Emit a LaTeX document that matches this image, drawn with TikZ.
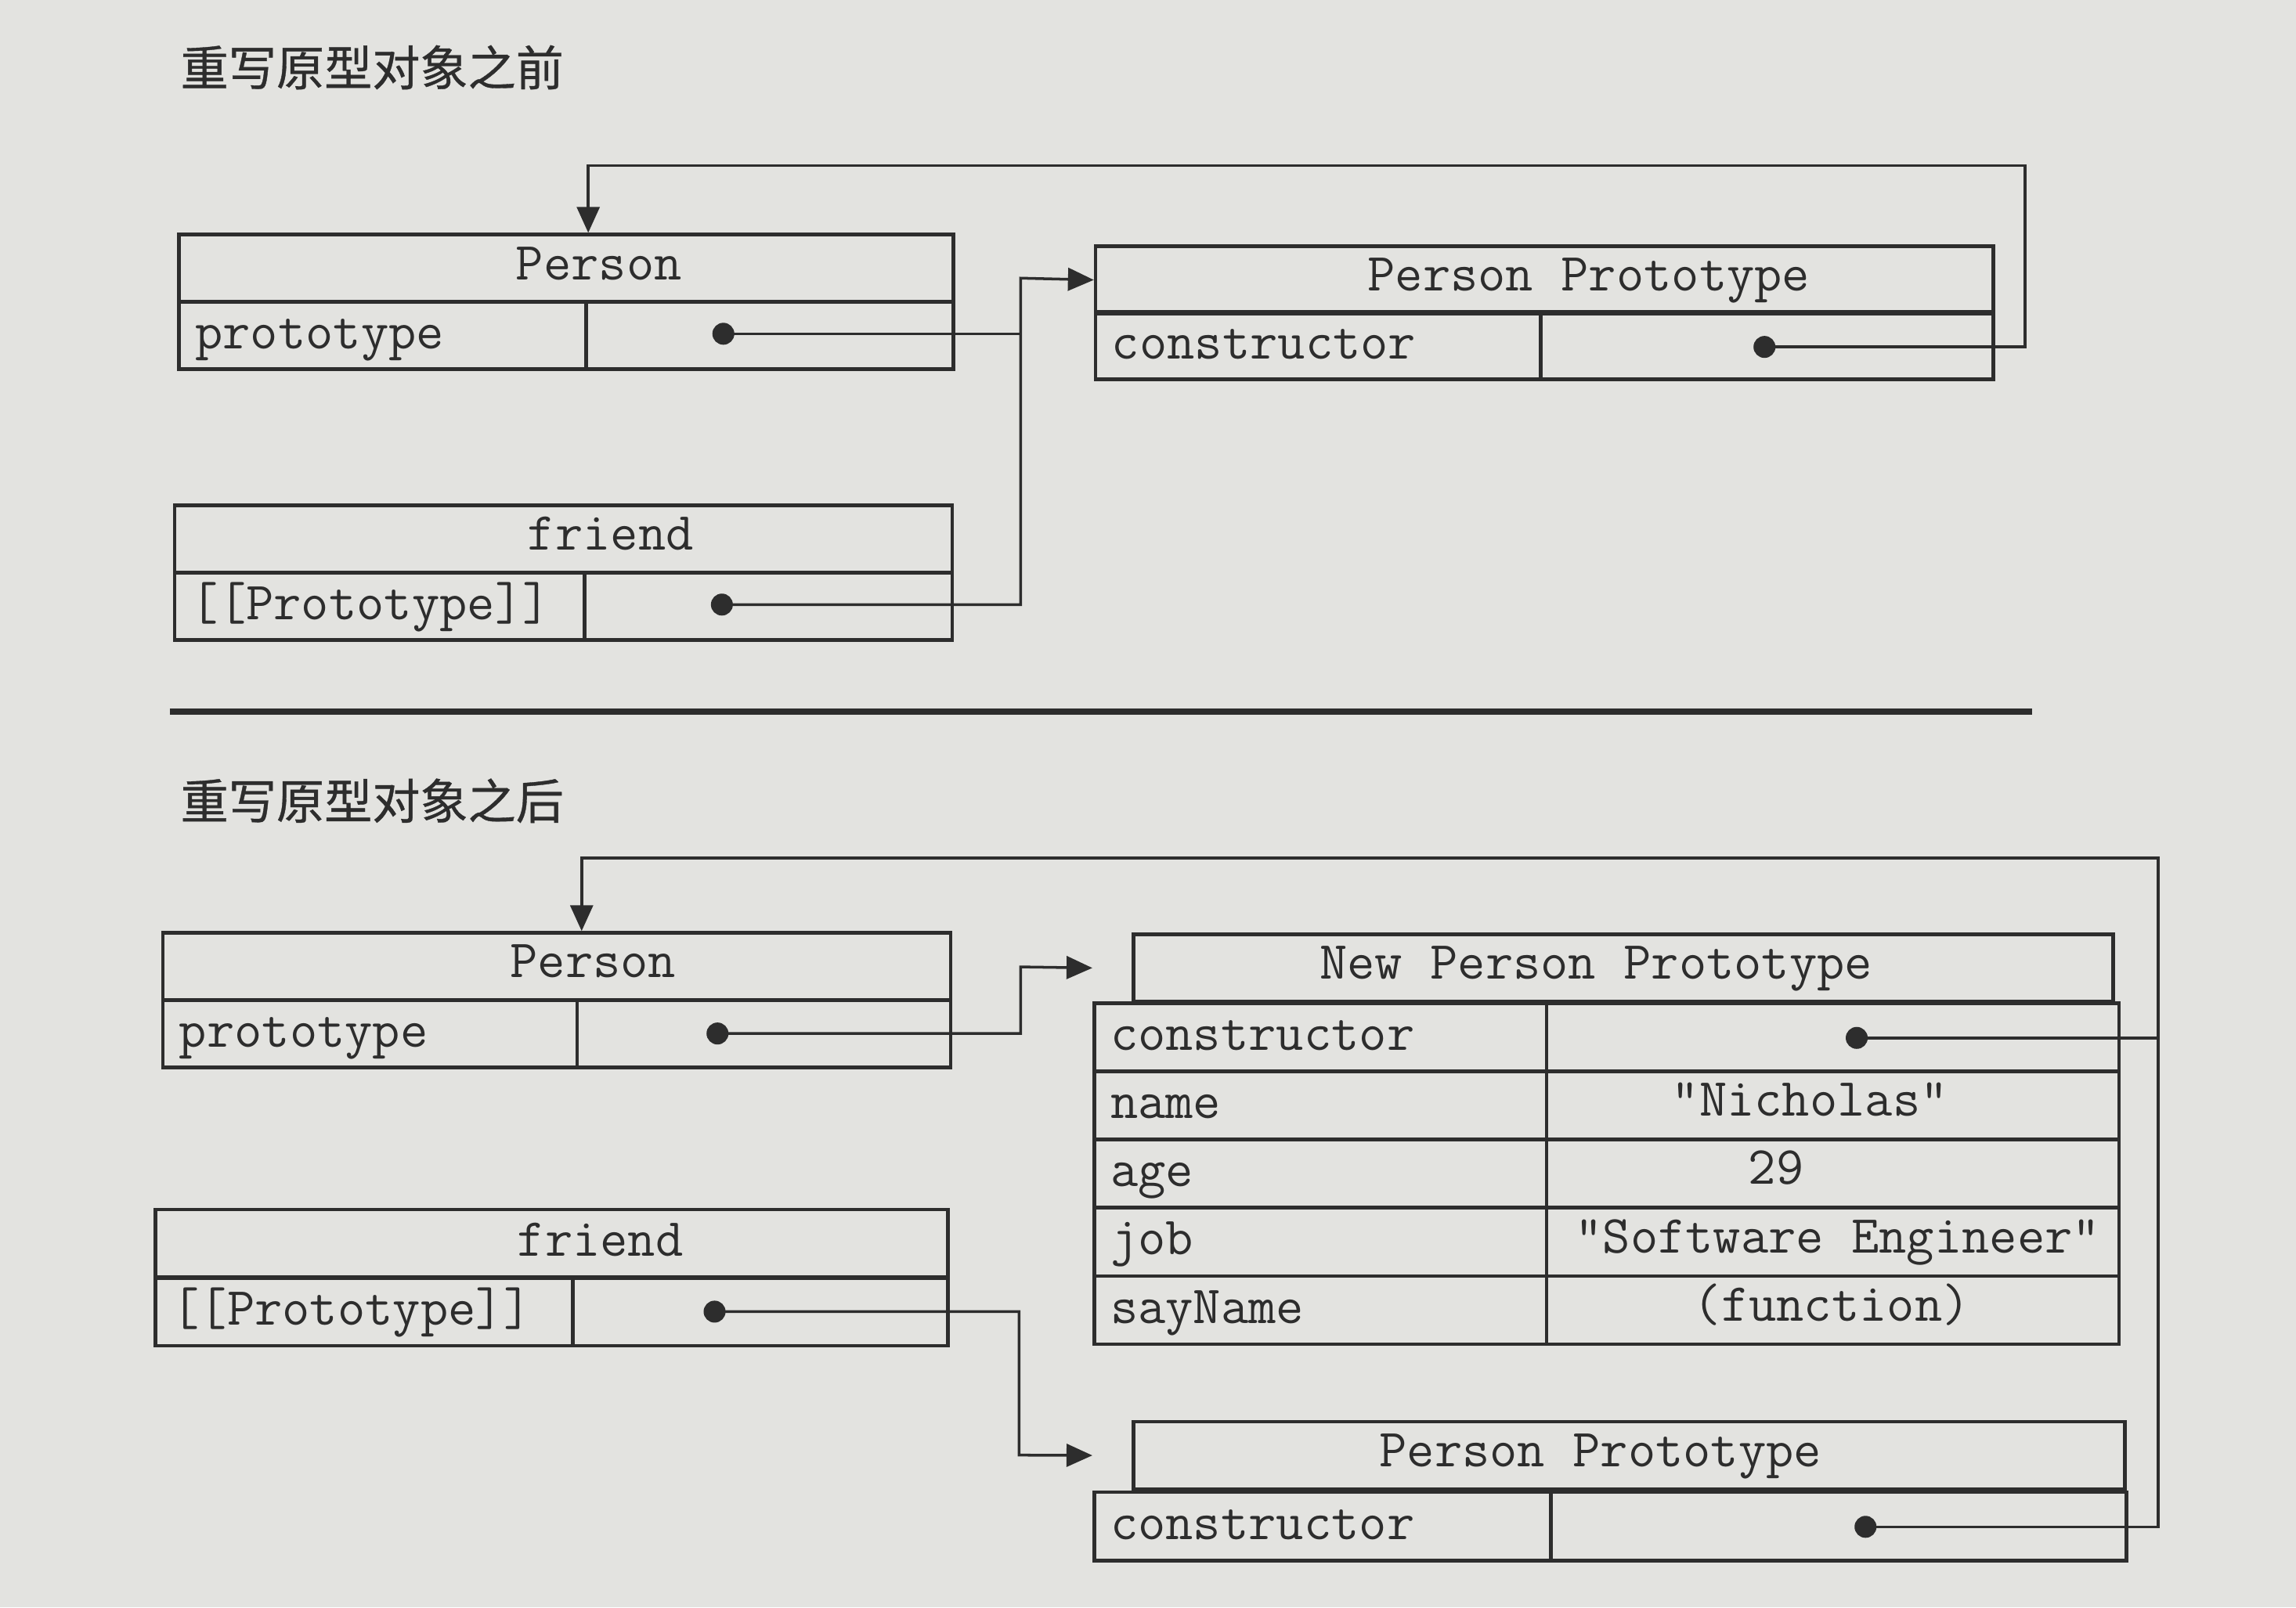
\documentclass[tikz,border=0pt]{standalone}
\usepackage{fontspec}
\newfontfamily\cjkfont[FakeBold=0.6]{Noto Sans CJK SC}
\usepackage{tikz}
\usetikzlibrary{arrows.meta,positioning}
\definecolor{paper}{RGB}{227,227,224}
\definecolor{ink}{RGB}{45,45,45}
\newlength\unitpx
\setlength\unitpx{0.187mm}

\tikzset{
  cell/.style={draw=ink, line width=1.3pt, inner sep=0pt, anchor=north west, minimum height=46\unitpx},
  txt/.style={font=\ttfamily\fontsize{19.5}{22}\selectfont, text=ink, inner sep=0pt, text height=11.9pt, text depth=2.4pt},
  dot/.style={circle, fill=ink, inner sep=0pt, minimum size=15\unitpx},
  link/.style={draw=ink, line width=1pt},
  arr/.style={link, -{Triangle[length=3.3mm, width=2.9mm]}},
  title/.style={font=\cjkfont\fontsize{17.4}{20}\selectfont, text=ink, anchor=west, inner sep=0pt}
}

\begin{document}
\begin{tikzpicture}[x=0.187mm, y=-0.187mm]
    \fill[paper] (0,0) rectangle (1568,1098);

    % before
    \node[title] (t1) at (123,46) {重写原型对象之前};

    \node[cell, minimum width=529\unitpx] (pa) at (121,159) {};
    \node[cell, minimum width=278\unitpx] (pa-k) at (121,205) {};
    \node[cell, minimum width=251\unitpx] (pa-v) at (399,205) {};
    \node[txt] (pa-t) at (409,182) {Person};
    \node[txt, right=12\unitpx of pa-k.west] (pa-kt) {prototype};
    \node[dot] (pa-d) at (494,228) {};

    \node[cell, minimum width=613\unitpx] (pp) at (747,167) {};
    \node[cell, minimum width=304\unitpx] (pp-k) at (747,212) {};
    \node[cell, minimum width=309\unitpx] (pp-v) at (1051,212) {};
    \node[txt] (pp-t) at (1085,190) {Person Prototype};
    \node[txt, right=12\unitpx of pp-k.west] (pp-kt) {constructor};
    \node[dot] (pp-d) at (1205,237) {};

    \node[cell, minimum width=531\unitpx] (fa) at (118,344) {};
    \node[cell, minimum width=280\unitpx] (fa-k) at (118,390) {};
    \node[cell, minimum width=251\unitpx] (fa-v) at (398,390) {};
    \node[txt] (fa-t) at (417,367) {friend};
    \node[txt, right=12\unitpx of fa-k.west] (fa-kt) {[[Prototype]]};
    \node[dot] (fa-d) at (493,413) {};

    \coordinate (ja) at (697,190);
    \coordinate (la) at (1383,113);
    \draw[arr] (fa-d.center) -| (ja) -- (pp.west);
    \draw[link] (pa-d.center) -- (pa-d.center -| ja);
    \draw[arr] (pp-d.center) -| (la) -| ([xshift=15\unitpx]pa.north);

    \draw[ink, line width=2.2pt] (116,486) -- (1388,486);

    % after
    \node[title] (t2) at (123,547) {重写原型对象之后};

    \node[cell, minimum width=538\unitpx] (pb) at (110,636) {};
    \node[cell, minimum width=283\unitpx] (pb-k) at (110,682) {};
    \node[cell, minimum width=255\unitpx] (pb-v) at (393,682) {};
    \node[txt] (pb-t) at (405,659) {Person};
    \node[txt, right=12\unitpx of pb-k.west] (pb-kt) {prototype};
    \node[dot] (pb-d) at (490,706) {};

    \node[cell, minimum width=541\unitpx] (fb) at (105,825) {};
    \node[cell, minimum width=285\unitpx] (fb-k) at (105,872) {};
    \node[cell, minimum width=256\unitpx] (fb-v) at (390,872) {};
    \node[txt] (fb-t) at (410,849) {friend};
    \node[txt, right=12\unitpx of fb-k.west] (fb-kt) {[[Prototype]]};
    \node[dot] (fb-d) at (488,896) {};

    \node[cell, minimum width=669\unitpx] (npp) at (773,637) {};
    \node[txt] (npp-t) at (1090,660) {New Person Prototype};
    \node[cell, minimum width=309\unitpx, minimum height=46.6\unitpx] (npp-k0) at (746,684) {};
    \node[cell, minimum width=391\unitpx, minimum height=46.6\unitpx] (npp-v0) at (1055,684) {};
    \node[txt, right=12\unitpx of npp-k0.west] (npp-kt0) {constructor};
    \node[dot] (npp-d) at (1268,709) {};
    \foreach \k/\v/\vx [count=\i] in {name/"Nicholas"/1236, age/29/1213,
        job/"Software Engineer"/1255, sayName/(function)/1251} {
      \node[cell, minimum width=309\unitpx, minimum height=46.6\unitpx] (npp-k\i) at (746,{684+46.6*\i}) {};
      \node[cell, minimum width=391\unitpx, minimum height=46.6\unitpx] (npp-v\i) at (1055,{684+46.6*\i}) {};
      \node[txt, right=12\unitpx of npp-k\i.west] (npp-kt\i) {\k};
      \node[txt] (npp-vt\i) at (\vx,{707+46.6*\i}) {\v};
    }

    \node[cell, minimum width=677\unitpx] (bpp) at (773,970) {};
    \node[cell, minimum width=312\unitpx, minimum height=47\unitpx] (bpp-k) at (746,1018) {};
    \node[cell, minimum width=393\unitpx, minimum height=47\unitpx] (bpp-v) at (1058,1018) {};
    \node[txt] (bpp-t) at (1093,993) {Person Prototype};
    \node[txt, right=12\unitpx of bpp-k.west] (bpp-kt) {constructor};
    \node[dot] (bpp-d) at (1274,1043) {};

    \coordinate (jb) at (697,660.5);
    \coordinate (jc) at (696,994);
    \coordinate (lb) at (1474,586);
    \draw[arr] (pb-d.center) -| (jb) -- (npp.west -| npp-k0.west);
    \draw[arr] (fb-d.center) -| (jc) -- (bpp.west -| bpp-k.west);
    \draw[arr] (bpp-d.center) -| (lb) -| ([xshift=17\unitpx]pb.north);
    \draw[link] (npp-d.center) -- (npp-d.center -| lb);
\end{tikzpicture}
\end{document}
